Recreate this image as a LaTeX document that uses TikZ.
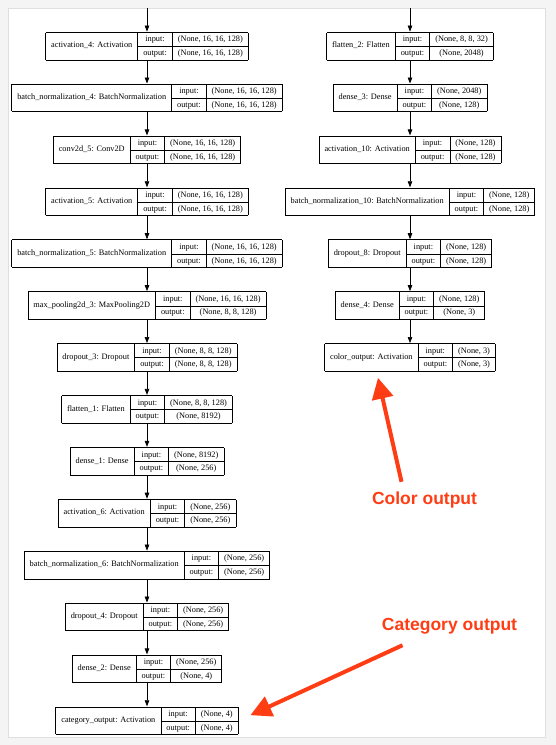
\documentclass[tikz,border=0pt]{standalone}
\usepackage{fontspec}
\setmainfont{Liberation Serif}
\newfontfamily\calloutfont{Liberation Sans}
\usepackage{multirow}
\usetikzlibrary{arrows.meta,positioning,calc}
\definecolor{callout}{RGB}{255,61,20}
\definecolor{framegray}{RGB}{244,244,244}
\renewcommand{\arraystretch}{1.5}
\setlength{\tabcolsep}{5.5pt}
\setlength{\arrayrulewidth}{0.7pt}
\newcommand{\klayer}[3]{%
\begin{tabular}{|c|c|c|}\hline
\multirow{2}{*}{#1} & input: & #2\\ \cline{2-3}
 & output: & #3\\ \hline
\end{tabular}}

\begin{document}
\begin{tikzpicture}[x=1pt,y=-1pt,
  lyr/.style={inner sep=0pt,font=\fontsize{8.3}{9}\selectfont},
  flow/.style={-{Triangle[length=6pt,width=4.5pt]},line width=0.7pt},
  callarrow/.style={callout,line width=4pt,-{Triangle[length=21pt,width=21pt]}},
  calltext/.style={callout,anchor=base,font=\calloutfont\bfseries\fontsize{17.5}{20}\selectfont},
  node distance=23.1pt]
\useasboundingbox (0,0) rectangle (556,745);
\fill[framegray] (0,0) rectangle (556,745);
\fill[white] (8,8) rectangle (545,737);
\draw[gray!25,line width=0.5pt] (8,8) rectangle (545,737);

% left branch
\coordinate (ltop) at (147,8);
\node[lyr] (act4) at (147,46) {\klayer{activation\_4: Activation}{(None, 16, 16, 128)}{(None, 16, 16, 128)}};
\node[lyr,below=of act4] (bn4) {\klayer{batch\_normalization\_4: BatchNormalization}{(None, 16, 16, 128)}{(None, 16, 16, 128)}};
\node[lyr,below=of bn4] (conv5) {\klayer{conv2d\_5: Conv2D}{(None, 16, 16, 128)}{(None, 16, 16, 128)}};
\node[lyr,below=of conv5] (act5) {\klayer{activation\_5: Activation}{(None, 16, 16, 128)}{(None, 16, 16, 128)}};
\node[lyr,below=of act5] (bn5) {\klayer{batch\_normalization\_5: BatchNormalization}{(None, 16, 16, 128)}{(None, 16, 16, 128)}};
\node[lyr,below=of bn5] (pool3) {\klayer{max\_pooling2d\_3: MaxPooling2D}{(None, 16, 16, 128)}{(None, 8, 8, 128)}};
\node[lyr,below=of pool3] (drop3) {\klayer{dropout\_3: Dropout}{(None, 8, 8, 128)}{(None, 8, 8, 128)}};
\node[lyr,below=of drop3] (flat1) {\klayer{flatten\_1: Flatten}{(None, 8, 8, 128)}{(None, 8192)}};
\node[lyr,below=of flat1] (dense1) {\klayer{dense\_1: Dense}{(None, 8192)}{(None, 256)}};
\node[lyr,below=of dense1] (act6) {\klayer{activation\_6: Activation}{(None, 256)}{(None, 256)}};
\node[lyr,below=of act6] (bn6) {\klayer{batch\_normalization\_6: BatchNormalization}{(None, 256)}{(None, 256)}};
\node[lyr,below=of bn6] (drop4) {\klayer{dropout\_4: Dropout}{(None, 256)}{(None, 256)}};
\node[lyr,below=of drop4] (dense2) {\klayer{dense\_2: Dense}{(None, 256)}{(None, 4)}};
\node[lyr,below=of dense2] (catout) {\klayer{category\_output: Activation}{(None, 4)}{(None, 4)}};

% right branch
\coordinate (rtop) at (410,8);
\node[lyr] (flat2) at (410,46) {\klayer{flatten\_2: Flatten}{(None, 8, 8, 32)}{(None, 2048)}};
\node[lyr,below=of flat2] (dense3) {\klayer{dense\_3: Dense}{(None, 2048)}{(None, 128)}};
\node[lyr,below=of dense3] (act10) {\klayer{activation\_10: Activation}{(None, 128)}{(None, 128)}};
\node[lyr,below=of act10] (bn10) {\klayer{batch\_normalization\_10: BatchNormalization}{(None, 128)}{(None, 128)}};
\node[lyr,below=of bn10] (drop8) {\klayer{dropout\_8: Dropout}{(None, 128)}{(None, 128)}};
\node[lyr,below=of drop8] (dense4) {\klayer{dense\_4: Dense}{(None, 128)}{(None, 3)}};
\node[lyr,below=of dense4] (colout) {\klayer{color\_output: Activation}{(None, 3)}{(None, 3)}};

\foreach \a/\b in {ltop/act4,act4/bn4,bn4/conv5,conv5/act5,act5/bn5,bn5/pool3,pool3/drop3,drop3/flat1,
  flat1/dense1,dense1/act6,act6/bn6,bn6/drop4,drop4/dense2,dense2/catout,
  rtop/flat2,flat2/dense3,dense3/act10,act10/bn10,bn10/drop8,drop8/dense4,dense4/colout}
  \draw[flow] (\a) -- (\b);

% callouts
\node[calltext] (coltxt) at (424.5,504) {Color output};
\node[calltext] (cattxt) at (449.5,630) {Category output};
\coordinate (coltip) at ($(colout.south)+(-32,6)$);
\coordinate (cattip) at ($(catout.east)+(12,-5.5)$);
\draw[callarrow] ([shift={(-23,-6)}]coltxt.north) -- (coltip);
\draw[callarrow] ([shift={(-47,8)}]cattxt.south) -- (cattip);
\end{tikzpicture}
\end{document}
